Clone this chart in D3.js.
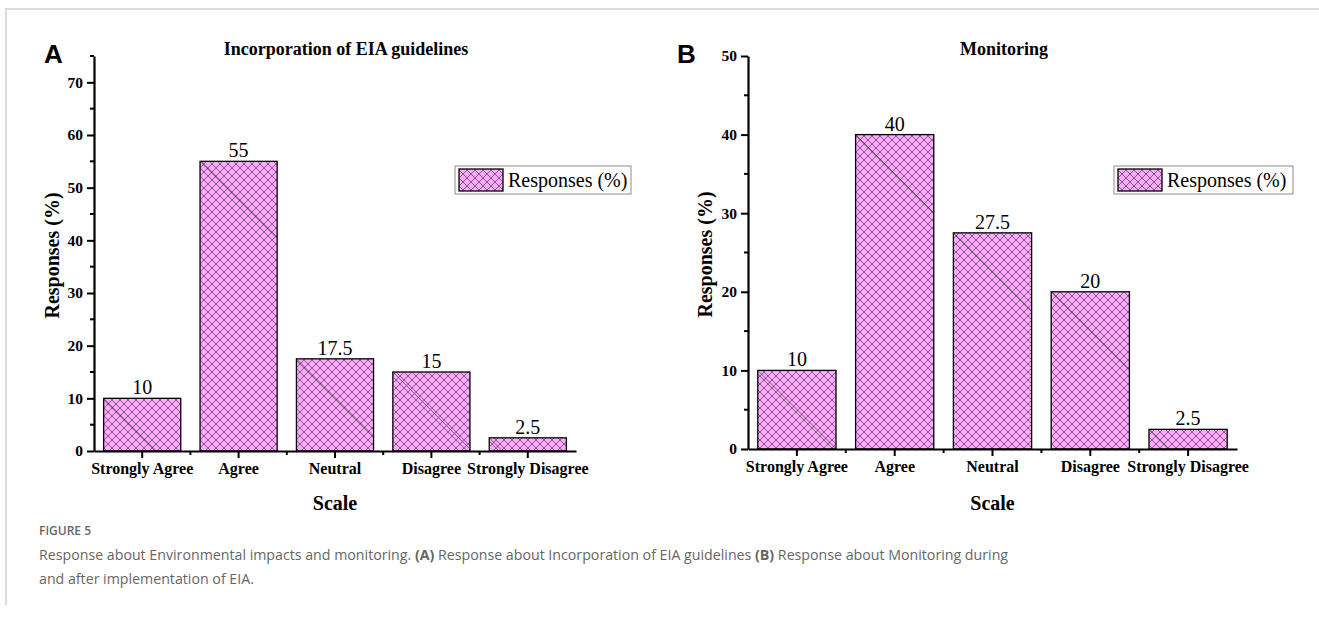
<!DOCTYPE html>
<html>
<head>
<meta charset="utf-8">
<script src="https://cdn.jsdelivr.net/npm/d3@7"></script>
<style>
  body { margin: 0; background: #fff; }
  svg { display: block; }
</style>
</head>
<body>
<div id="holder"></div>
<script>
const categories = ["Strongly Agree", "Agree", "Neutral", "Disagree", "Strongly Disagree"];
const incorporationValues = [10, 55, 17.5, 15, 2.5];
const monitoringValues = [10, 40, 27.5, 20, 2.5];
const incorporationTicks = [0, 10, 20, 30, 40, 50, 60, 70];
const monitoringTicks = [0, 10, 20, 30, 40, 50];
const legendLabel = "Responses (%)";

const width = 1319;
const height = 617;
const serif = "'Liberation Serif', 'Times New Roman', serif";

const svg = d3.select("#holder")
    .append("svg")
    .attr("width", width)
    .attr("height", height);

// crosshatch fill used by bars and legend swatch
const defs = svg.append("defs");
const pattern = defs.append("pattern")
    .attr("id", "hatch")
    .attr("patternUnits", "userSpaceOnUse")
    .attr("width", 8)
    .attr("height", 8);
pattern.append("rect")
    .attr("width", 8)
    .attr("height", 8)
    .attr("fill", "#ffa8ff");
pattern.append("path")
    .attr("d", "M0,0L8,8M0,8L8,0M-2,6L2,10M6,-2L10,2M-2,2L2,-2M6,10L10,6")
    .attr("stroke", "#4a3a4a")
    .attr("stroke-width", 0.7);

// figure frame
svg.append("path")
    .attr("d", "M6,605V9H1319")
    .attr("fill", "none")
    .attr("stroke", "#dcdcdc")
    .attr("stroke-width", 2);

function drawPanel(cfg) {
    const g = svg.append("g");

    const x = d3.scaleBand()
        .domain(categories)
        .range([cfg.left, cfg.right])
        .paddingInner(0.2)
        .paddingOuter(0.1);
    const xOuter = d3.scaleBand()
        .domain(categories)
        .range([cfg.left, cfg.right]);
    const y = d3.scaleLinear()
        .domain([0, cfg.max])
        .range([cfg.bottom, cfg.top]);

    // bars
    const bars = g.selectAll(".bar")
        .data(cfg.values)
        .enter()
        .append("g");
    bars.append("rect")
        .attr("x", (d, i) => x(categories[i]))
        .attr("y", (d) => y(d))
        .attr("width", x.bandwidth())
        .attr("height", (d) => y(0) - y(d))
        .attr("fill", "url(#hatch)")
        .attr("stroke", "#000")
        .attr("stroke-width", 1.3);
    // darker stray diagonal that Origin leaves in each hatched bar
    bars.append("line")
        .attr("x1", (d, i) => x(categories[i]))
        .attr("y1", (d) => y(d))
        .attr("x2", (d, i) => x(categories[i]) + Math.min(x.bandwidth(), y(0) - y(d)))
        .attr("y2", (d) => y(d) + Math.min(x.bandwidth(), y(0) - y(d)))
        .attr("stroke", "#222")
        .attr("stroke-width", 0.6);
    bars.append("text")
        .attr("x", (d, i) => x(categories[i]) + x.bandwidth() / 2)
        .attr("y", (d) => y(d) - 4)
        .attr("text-anchor", "middle")
        .attr("font-family", serif)
        .attr("font-size", 20)
        .text((d) => d);

    // y axis
    const minor = d3.range(5, cfg.max + 0.1, 10);
    const yAxis = g.append("g")
        .attr("transform", `translate(${cfg.left},0)`)
        .call(d3.axisLeft(y).tickValues(cfg.ticks).tickSize(7).tickPadding(4).tickSizeOuter(0));
    g.append("g")
        .attr("transform", `translate(${cfg.left},0)`)
        .selectAll("line")
        .data(minor)
        .enter()
        .append("line")
        .attr("x1", -4)
        .attr("x2", 0)
        .attr("y1", (d) => y(d))
        .attr("y2", (d) => y(d))
        .attr("stroke", "#000")
        .attr("stroke-width", 2);

    // x axis
    const xAxis = g.append("g")
        .attr("transform", `translate(0,${cfg.bottom})`)
        .call(d3.axisBottom(xOuter).tickSize(7).tickPadding(5).tickSizeOuter(0));
    g.append("g")
        .attr("transform", `translate(0,${cfg.bottom})`)
        .selectAll("line")
        .data(categories.slice(1))
        .enter()
        .append("line")
        .attr("x1", (d) => xOuter(d))
        .attr("x2", (d) => xOuter(d))
        .attr("y1", 0)
        .attr("y2", 4)
        .attr("stroke", "#000")
        .attr("stroke-width", 2);

    [yAxis, xAxis].forEach((ax) => {
        ax.select(".domain").attr("stroke-width", 2.2);
        ax.selectAll(".tick line").attr("stroke-width", 2);
        ax.selectAll(".tick text")
            .attr("font-family", serif)
            .attr("font-weight", "bold")
            .attr("font-size", 15.5)
            .attr("fill", "#000");
    });
    xAxis.selectAll(".tick text").attr("font-size", 16);

    // panel letter, title, axis titles
    g.append("text")
        .attr("x", cfg.letterX)
        .attr("y", 63)
        .attr("font-family", "'Liberation Sans', Arial, sans-serif")
        .attr("font-weight", "bold")
        .attr("font-size", 26)
        .text(cfg.letter);
    g.append("text")
        .attr("x", cfg.titleX)
        .attr("y", 55)
        .attr("text-anchor", "middle")
        .attr("font-family", serif)
        .attr("font-weight", "bold")
        .attr("font-size", 18)
        .text(cfg.title);
    g.append("text")
        .attr("x", (cfg.left + cfg.right) / 2)
        .attr("y", 510)
        .attr("text-anchor", "middle")
        .attr("font-family", serif)
        .attr("font-weight", "bold")
        .attr("font-size", 20)
        .text("Scale");
    g.append("text")
        .attr("transform", `translate(${cfg.yTitleX},${(cfg.top + cfg.bottom) / 2 + 2}) rotate(-90)`)
        .attr("text-anchor", "middle")
        .attr("font-family", serif)
        .attr("font-weight", "bold")
        .attr("font-size", 20)
        .text("Responses (%)");

    // legend
    const lg = g.append("g").attr("transform", `translate(${cfg.legendX},166)`);
    lg.append("rect")
        .attr("width", cfg.legendW)
        .attr("height", 28)
        .attr("fill", "#fff")
        .attr("stroke", "#8c8c8c")
        .attr("stroke-width", 1);
    lg.append("rect")
        .attr("x", 4)
        .attr("y", 3)
        .attr("width", 44)
        .attr("height", 22)
        .attr("fill", "url(#hatch)")
        .attr("stroke", "#000")
        .attr("stroke-width", 1.3);
    lg.append("text")
        .attr("x", 53)
        .attr("y", 21)
        .attr("font-family", serif)
        .attr("font-size", 20)
        .text(legendLabel);
}

drawPanel({
    letter: "A", letterX: 44, title: "Incorporation of EIA guidelines", titleX: 346,
    values: incorporationValues, ticks: incorporationTicks, max: 75,
    left: 94, right: 576, top: 56, bottom: 451, yTitleX: 59,
    legendX: 455, legendW: 176
});
drawPanel({
    letter: "B", letterX: 677, title: "Monitoring", titleX: 1004,
    values: monitoringValues, ticks: monitoringTicks, max: 50,
    left: 748, right: 1237, top: 56, bottom: 449, yTitleX: 712,
    legendX: 1114, legendW: 179
});

// caption
const cap = svg.append("g")
    .attr("font-family", "'Open Sans', 'Noto Sans', sans-serif")
    .attr("fill", "#666");
cap.append("text")
    .attr("x", 39)
    .attr("y", 535)
    .attr("font-size", 12)
    .attr("font-weight", 600)
    .text("FIGURE 5");
const line1 = cap.append("text")
    .attr("x", 39)
    .attr("y", 560)
    .attr("font-size", 14.2);
line1.append("tspan").text("Response about Environmental impacts and monitoring. ");
line1.append("tspan").attr("font-weight", "bold").text("(A)");
line1.append("tspan").text(" Response about Incorporation of EIA guidelines ");
line1.append("tspan").attr("font-weight", "bold").text("(B)");
line1.append("tspan").text(" Response about Monitoring during");
cap.append("text")
    .attr("x", 39)
    .attr("y", 584)
    .attr("font-size", 14.2)
    .text("and after implementation of EIA.");
</script>
</body>
</html>
